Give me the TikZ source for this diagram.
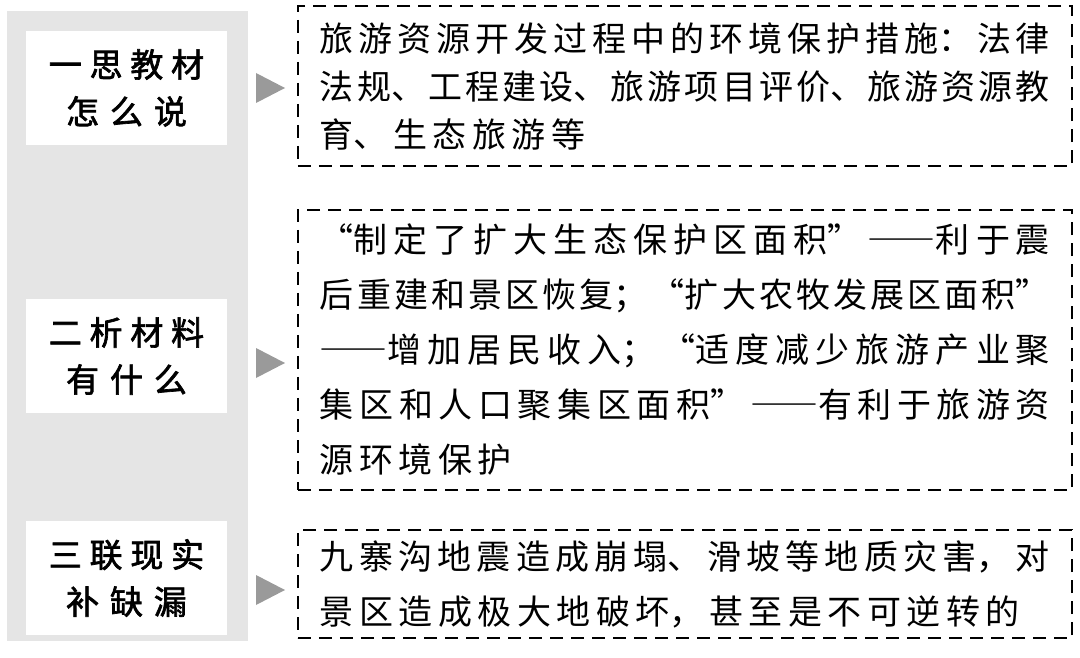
\documentclass[tikz,border=0pt]{standalone}
\usepackage{fontspec}
\newfontfamily\kai{Noto Sans CJK SC}[RawFeature=+fwid]
\newfontfamily\hei{Noto Sans CJK SC}[FakeBold=2]
\XeTeXlinebreaklocale "zh"
\XeTeXlinebreakskip=5.5bp plus 12bp minus 4bp
\tolerance=9999
\definecolor{panelgray}{HTML}{E5E5E5}
\definecolor{tipgray}{HTML}{9A9A9A}

\begin{document}
\begin{tikzpicture}[x=1bp,y=-1bp,
    label/.style={fill=white,minimum width=201bp,minimum height=114bp,text width=180bp,
        align=center,font=\hei\fontsize{33bp}{47bp}\selectfont},
    textbox/.style={draw,line width=1.8bp,dash pattern=on 13bp off 8bp,
        minimum width=774bp,text width=730bp,align=justify,inner xsep=22bp}]
    \useasboundingbox (0,0) rectangle (1080,658);
    % left panel
    \fill [panelgray] (7,11) rectangle (248,641);
    \node [label] (think) at (126.5,88)  {一思教材\\怎么说};
    \node [label] (read)  at (126.5,356) {二析材料\\有什么};
    \node [label] (link)  at (126.5,578) {三联现实\\补缺漏};
    % pointers
    \foreach \y in {88,363,590}{
        \fill [tipgray] (256,\y-15) -- (285,\y) -- (256,\y+15) -- cycle;
    }
    % dashed boxes
    \begin{scope}[font=\kai\fontsize{34bp}{48bp}\selectfont]
    \node [textbox,minimum height=160bp] (book) at (685,86)
        {旅游资源开发过程中的环境保护措施：法律\break
         法规、工程建设、旅游项目评价、旅游资源教\break
         育、生态旅游等};
    \end{scope}
    \begin{scope}[font=\kai\fontsize{34bp}{55bp}\selectfont]
    \node [textbox,minimum height=280bp] (data) at (685,350)
        {“制定了扩大生态保护区面积”——利于震\break
         后重建和景区恢复；“扩大农牧发展区面积”\break
         ——增加居民收入；“适度减少旅游产业聚\break
         集区和人口聚集区面积”——有利于旅游资\break
         源环境保护};
    \node [textbox,minimum height=108bp] (fact) at (685,584)
        {九寨沟地震造成崩塌、滑坡等地质灾害，对\break
         景区造成极大地破坏，甚至是不可逆转的};
    \end{scope}
\end{tikzpicture}
\end{document}
